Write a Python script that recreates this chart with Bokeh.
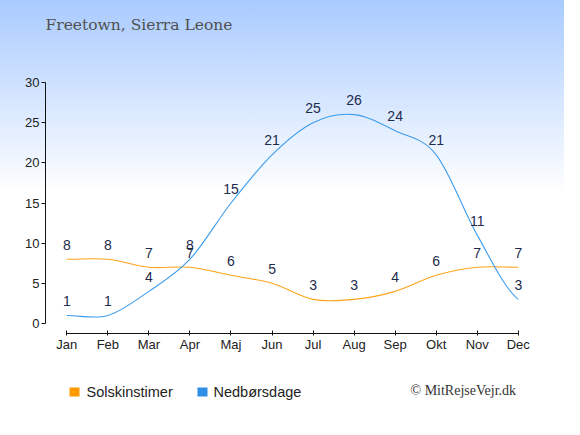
from bokeh.plotting import figure
from bokeh.layouts import column
from bokeh.models import FixedTicker, Label, BoxAnnotation, ColumnDataSource
from bokeh.core.properties import value
from bokeh.embed import file_html
from bokeh.resources import INLINE

months = ["Jan", "Feb", "Mar", "Apr", "Maj", "Jun", "Jul", "Aug", "Sep", "Okt", "Nov", "Dec"]
sunshine = [8, 8, 7, 7, 6, 5, 3, 3, 4, 6, 7, 7]
rain_days = [1, 1, 4, 8, 15, 21, 25, 26, 24, 21, 11, 3]
y_ticks = [0, 5, 10, 15, 20, 25, 30]

title_text = "Freetown, Sierra Leone"
legend_sun = "Solskinstimer"
legend_rain = "Nedbørsdage"
credit = "© MitRejseVejr.dk"

SUN_COLOR = "#ffa31a"
RAIN_COLOR = "#3d9cec"
SUN_BOX = "#ff9900"
RAIN_BOX = "#2f8fe6"
LABEL_COLOR = "#1d2b4c"

xs = list(range(len(months)))

main = figure(width=564, height=362, output_backend="svg", toolbar_location=None,
              x_range=(-0.519, 11.59), y_range=(-1.245, 40.21),
              min_border_left=45, min_border_right=22, min_border_top=0, min_border_bottom=29)
main.background_fill_alpha = 0
main.border_fill_alpha = 0
main.outline_line_color = None
main.xgrid.visible = False
main.ygrid.visible = False


def bezier_parts(ys):
    n = len(ys)
    m = []
    for i in range(n):
        a = ys[i - 1] if i > 0 else ys[i]
        b = ys[i + 1] if i < n - 1 else ys[i]
        m.append((b - a) / 2.0)
    x0, y0, x1, y1, cx0, cy0, cx1, cy1 = [], [], [], [], [], [], [], []
    for i in range(n - 1):
        x0.append(xs[i]); y0.append(ys[i])
        x1.append(xs[i + 1]); y1.append(ys[i + 1])
        cx0.append(xs[i] + 1 / 3.0); cy0.append(ys[i] + m[i] / 3.0)
        cx1.append(xs[i + 1] - 1 / 3.0); cy1.append(ys[i + 1] - m[i + 1] / 3.0)
    return dict(x0=x0, y0=y0, x1=x1, y1=y1, cx0=cx0, cy0=cy0, cx1=cx1, cy1=cy1)


for ys, col in ((sunshine, SUN_COLOR), (rain_days, RAIN_COLOR)):
    src = ColumnDataSource(bezier_parts(ys))
    main.bezier(x0="x0", y0="y0", x1="x1", y1="y1", cx0="cx0", cy0="cy0", cx1="cx1", cy1="cy1",
                source=src, line_color=col, line_width=1.1)

for ys in (sunshine, rain_days):
    src = ColumnDataSource(dict(x=xs, y=ys, t=[str(v) for v in ys]))
    main.text(x="x", y="y", text="t", source=src, text_align="center", text_baseline="alphabetic",
              y_offset=-14.5, text_color=LABEL_COLOR, text_font=value("Liberation Sans"),
              text_font_size="14px")

# axes
main.yaxis.ticker = FixedTicker(ticks=y_ticks)
main.yaxis.bounds = (0, 30)
main.yaxis.minor_tick_line_color = None
main.yaxis.major_tick_in = 0
main.yaxis.major_tick_out = 4
main.yaxis.major_label_standoff = 2
main.yaxis.major_label_text_font = "Liberation Sans"
main.yaxis.major_label_text_font_size = "13px"
main.yaxis.major_label_text_color = "#222222"
main.yaxis.axis_line_color = "#111111"
main.yaxis.major_tick_line_color = "#111111"

main.xaxis.ticker = FixedTicker(ticks=xs)
main.xaxis.major_label_overrides = {i: m for i, m in enumerate(months)}
main.xaxis.bounds = (0, 11)
main.xaxis.minor_tick_line_color = None
main.xaxis.major_tick_in = 3
main.xaxis.major_tick_out = 2
main.xaxis.major_label_standoff = 1
main.xaxis.major_label_text_font = "Liberation Sans"
main.xaxis.major_label_text_font_size = "13px"
main.xaxis.major_label_text_color = "#222222"
main.xaxis.axis_line_color = "#111111"
main.xaxis.major_tick_line_color = "#111111"

# title (inside the frame, screen units relative to frame bottom-left)
main.add_layout(Label(x=0, y=309, x_units="screen", y_units="screen", text=title_text,
                      text_font="DejaVu Serif", text_font_size="15.5px", text_color="#505050",
                      text_baseline="alphabetic"))

# bottom strip with legend and credit (its frame is aligned with the main frame)
foot = figure(width=564, height=57, output_backend="svg", toolbar_location=None,
              x_axis_type=None, y_axis_type=None, x_range=(0, 1), y_range=(0, 1),
              min_border=0, min_border_left=0, min_border_right=0, min_border_top=0,
              min_border_bottom=0)
foot.background_fill_alpha = 0
foot.border_fill_alpha = 0
foot.outline_line_color = None
foot.xgrid.visible = False
foot.ygrid.visible = False

for lft, colr in ((24, SUN_BOX), (152, RAIN_BOX)):
    foot.add_layout(BoxAnnotation(left=lft, right=lft + 10, bottom=23, top=32,
                                  left_units="screen", right_units="screen",
                                  bottom_units="screen", top_units="screen",
                                  fill_color=colr, fill_alpha=1, line_color=None))
foot.add_layout(Label(x=41, y=28, x_units="screen", y_units="screen", text=legend_sun,
                      text_font="Liberation Sans", text_font_size="14.5px", text_color="#222222",
                      text_baseline="middle"))
foot.add_layout(Label(x=168, y=28, x_units="screen", y_units="screen", text=legend_rain,
                      text_font="Liberation Sans", text_font_size="14.5px", text_color="#222222",
                      text_baseline="middle"))
foot.add_layout(Label(x=365, y=29, x_units="screen", y_units="screen", text=credit,
                      text_font="Liberation Serif", text_font_size="14px", text_color="#333333",
                      text_baseline="middle"))

p = column(main, foot, spacing=0)
p.styles = {"background": "linear-gradient(to bottom, #a9cbff 0%, #ffffff 46%, #ffffff 100%)"}

open("out.html", "w").write(file_html(p, INLINE))
